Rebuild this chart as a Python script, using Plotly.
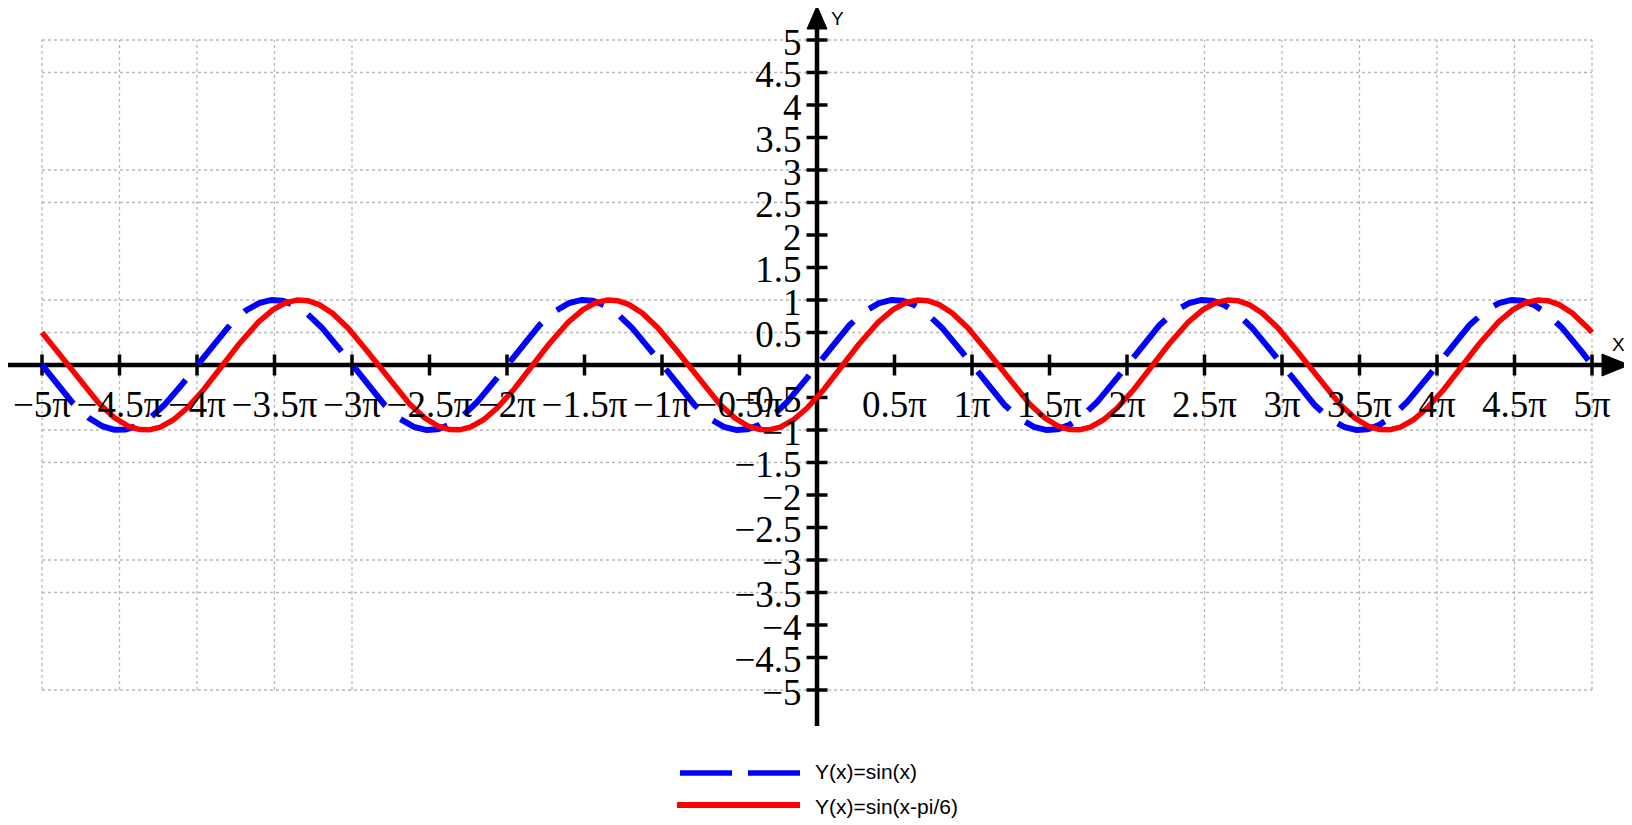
import numpy as np
import plotly.graph_objects as go

PI = np.pi

# ---------------- data ----------------
series_names = ["Y(x)=sin(x)", "Y(x)=sin(x-pi/6)"]
phase_shift = PI / 6
x_samples = np.linspace(-5 * PI, 5 * PI, 1601)
y_sin = np.sin(x_samples)
y_shifted = np.sin(x_samples - phase_shift)

x_tick_multiples = [-5, -4.5, -4, -3.5, -3, -2.5, -2, -1.5, -1, -0.5,
                    0.5, 1, 1.5, 2, 2.5, 3, 3.5, 4, 4.5, 5]
x_tick_labels = ["−5π", "−4.5π", "−4π", "−3.5π", "−3π", "−2.5π", "−2π", "−1.5π", "−1π", "−0.5π",
                 "0.5π", "1π", "1.5π", "2π", "2.5π", "3π", "3.5π", "4π", "4.5π", "5π"]
y_tick_values = [5, 4.5, 4, 3.5, 3, 2.5, 2, 1.5, 1, 0.5,
                 -0.5, -1, -1.5, -2, -2.5, -3, -3.5, -4, -4.5, -5]
y_tick_labels = ["5", "4.5", "4", "3.5", "3", "2.5", "2", "1.5", "1", "0.5",
                 "−0.5", "−1", "−1.5", "−2", "−2.5", "−3", "−3.5", "−4", "−4.5", "−5"]
x_grid_multiples = [-5, -4.5, -4, -3.5, -3, 1, 2.5, 3, 3.5, 4, 4.5, 5]
y_grid_values = [5, 4.5, 3, 2.5, 1, 0.5, -1, -1.5, -3, -3.5, -5]
x_limit_multiple = 5
y_limit = 5

# ---------------- geometry (page pixels; the page body adds an 8px margin) ----------------
OFF = 8
W, H = 1632 - OFF, 825 - OFF
PLOT_H = 730                 # plot area height (page y 8 .. 738)
OX, OY = 817, 365            # page pixel position of origin
PX_PER_X = 155 / PI          # pixels per x unit
PX_PER_Y = 65                # pixels per y unit
cxf, cyf = OX - OFF, OY - OFF
x_range = [-cxf / PX_PER_X, (W - cxf) / PX_PER_X]
y_range = [-(PLOT_H - cyf) / PX_PER_Y, cyf / PX_PER_Y]


def ppx(px):
    return (px - OFF) / W


def ppy(py):
    return 1 - (py - OFF) / PLOT_H


x_ticks = [m * PI for m in x_tick_multiples]
xlim = x_limit_multiple * PI

shapes = []
# dotted grid
grid_style = dict(color="#b8b8b8", width=1.3, dash="dot")
for m in x_grid_multiples:
    shapes.append(dict(type="line", xref="x", yref="y", x0=m * PI, x1=m * PI,
                       y0=-y_limit, y1=y_limit, line=grid_style, layer="below"))
for v in y_grid_values:
    shapes.append(dict(type="line", xref="x", yref="y", x0=-xlim, x1=xlim,
                       y0=v, y1=v, line=grid_style, layer="below"))

# axes lines with arrows
axis_line = dict(color="black", width=4.5)
shapes.append(dict(type="line", xref="paper", yref="paper", x0=ppx(8), x1=ppx(1606),
                   y0=ppy(OY), y1=ppy(OY), line=axis_line, layer="below"))
shapes.append(dict(type="line", xref="paper", yref="paper", x0=ppx(OX), x1=ppx(OX),
                   y0=ppy(26), y1=ppy(726), line=axis_line, layer="below"))
shapes.append(dict(type="path", xref="paper", yref="paper",
                   path=(f"M {ppx(1602)} {ppy(354)} L {ppx(1629)} {ppy(OY)} "
                         f"L {ppx(1602)} {ppy(376)} Z"),
                   fillcolor="black", line=dict(color="black", width=1), layer="below"))
shapes.append(dict(type="path", xref="paper", yref="paper",
                   path=(f"M {ppx(807)} {ppy(29)} L {ppx(OX)} {ppy(6)} "
                         f"L {ppx(827)} {ppy(29)} Z"),
                   fillcolor="black", line=dict(color="black", width=1), layer="below"))

# manual legend samples
shapes.append(dict(type="line", xref="paper", yref="paper", x0=ppx(680), x1=ppx(732),
                   y0=ppy(773), y1=ppy(773), line=dict(color="#0000ff", width=5.5)))
shapes.append(dict(type="line", xref="paper", yref="paper", x0=ppx(748), x1=ppx(800),
                   y0=ppy(773), y1=ppy(773), line=dict(color="#0000ff", width=5.5)))
shapes.append(dict(type="line", xref="paper", yref="paper", x0=ppx(677), x1=ppx(800),
                   y0=ppy(805), y1=ppy(805), line=dict(color="#ff0000", width=6)))

label_font = dict(family="Liberation Sans", size=19, color="black")
legend_font = dict(family="Liberation Sans", size=21, color="black")
annotations = [
    dict(text="Y", xref="paper", yref="paper", x=ppx(829), y=ppy(18), xanchor="left",
         yanchor="middle", showarrow=False, font=label_font),
    dict(text="X", xref="paper", yref="paper", x=ppx(1627), y=ppy(345), xanchor="right",
         yanchor="middle", showarrow=False, font=label_font),
    dict(text=series_names[0], xref="paper", yref="paper", x=ppx(813), y=ppy(772),
         xanchor="left", yanchor="middle", showarrow=False, font=legend_font),
    dict(text=series_names[1], xref="paper", yref="paper", x=ppx(813), y=ppy(806),
         xanchor="left", yanchor="middle", showarrow=False, font=legend_font),
]

fig = go.Figure()

# tick marks crossing the axes
fig.add_trace(go.Scatter(x=x_ticks, y=[0] * len(x_ticks), mode="markers", hoverinfo="skip",
                         marker=dict(symbol="line-ns", size=15, line=dict(color="black", width=3.5)),
                         showlegend=False))
fig.add_trace(go.Scatter(x=[0] * len(y_tick_values), y=y_tick_values, mode="markers", hoverinfo="skip",
                         marker=dict(symbol="line-ew", size=15, line=dict(color="black", width=3.5)),
                         showlegend=False))

fig.add_trace(go.Scatter(x=x_samples, y=y_sin, mode="lines", name=series_names[0],
                         line=dict(color="#0000ff", width=6, dash="50px,20px"), showlegend=False))
fig.add_trace(go.Scatter(x=x_samples, y=y_shifted, mode="lines", name=series_names[1],
                         line=dict(color="#ff0000", width=5.5), showlegend=False))

tick_font = dict(family="Liberation Serif", size=37, color="black")
fig.update_layout(
    width=W, height=H,
    margin=dict(l=0, r=0, t=0, b=H - PLOT_H, pad=0),
    paper_bgcolor="white", plot_bgcolor="white",
    showlegend=False,
    shapes=shapes,
    annotations=annotations,
    xaxis=dict(range=x_range, anchor="free", position=(PLOT_H - cyf) / PLOT_H, side="bottom",
               tickmode="array", tickvals=x_ticks, ticktext=x_tick_labels,
               ticks="outside", ticklen=7, tickcolor="rgba(0,0,0,0)",
               showgrid=False, zeroline=False, showline=False, tickfont=tick_font,
               fixedrange=True),
    yaxis=dict(range=y_range, anchor="free", position=cxf / W, side="left",
               tickmode="array", tickvals=y_tick_values, ticktext=y_tick_labels,
               ticks="outside", ticklen=8, tickcolor="rgba(0,0,0,0)", ticklabelshift=2,
               showgrid=False, zeroline=False, showline=False, tickfont=tick_font,
               fixedrange=True),
)

fig.write_html("out.html")
